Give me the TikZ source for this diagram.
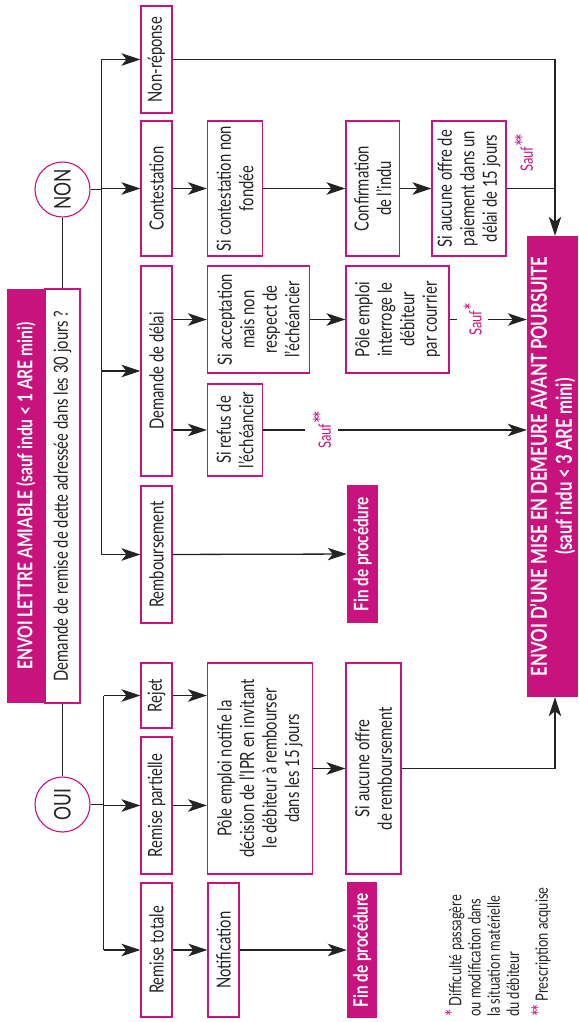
\documentclass[tikz,border=0pt]{standalone}
\usepackage{fontspec}
\setmainfont[FakeStretch=0.76]{Lato}
\usetikzlibrary{arrows.meta}
\definecolor{mag}{HTML}{C8137F}
\definecolor{ink}{HTML}{232323}
\newcommand{\bigast}[1]{{\fontsize{#1}{#1}\selectfont *}}
\begin{document}
\begin{tikzpicture}[x=1pt,y=-1pt,
  txt/.style={font=\fontsize{19.5}{22.5}\selectfont, text=ink},
  wbox/.style={draw=mag, line width=1.1pt, fill=white, rotate=90, align=center, inner sep=0pt, txt},
  mbox/.style={fill=mag, rotate=90, align=center, inner sep=0pt, text=white, font=\fontsize{20}{24}\selectfont\bfseries},
  circ/.style={circle, draw=mag, line width=1.1pt, fill=white, minimum size=55pt, inner sep=0pt, rotate=90, font=\fontsize{23}{24}\selectfont, text=ink},
  lnk/.style={draw=ink, line width=1.3pt},
  arr/.style={lnk, -{Stealth[length=19pt,width=12.5pt,inset=5pt]}},
  lab/.style={rotate=90, text=mag, font=\fontsize{17}{19}\selectfont, inner sep=0pt},
  fnote/.style={rotate=90, anchor=west, align=left, inner sep=0pt, text=ink, font=\fontsize{17}{19.3}\selectfont},
]
\useasboundingbox (0,0) rectangle (578,1022);

% left column
\node[mbox, minimum width=414pt, minimum height=38pt, font=\fontsize{20.5}{24}\selectfont\bfseries] (title) at (26,496) {ENVOI LETTRE AMIABLE (sauf indu < 1 ARE mini)};
\node[wbox, minimum width=414pt, minimum height=35pt] (qbox) at (62.5,496) {Demande de remise de dette adressée dans les 30 jours ?};
\node[circ] (nonc) at (62.5,189.5) {NON};
\node[circ] (ouic) at (62.5,804.5) {OUI};

% first column of boxes
\node[wbox, minimum width=107pt, minimum height=31pt] (nonrep) at (156.5,59.5) {Non-réponse};
\node[wbox, minimum width=135pt, minimum height=31pt] (contest) at (156.5,188.5) {Contestation};
\node[wbox, minimum width=210pt, minimum height=31pt] (dd) at (156.5,371) {Demande de délai};
\node[wbox, minimum width=137pt, minimum height=31pt] (remb) at (156.5,554.5) {Remboursement};
\node[wbox, minimum width=65pt, minimum height=31pt] (rejet) at (156.5,695.5) {Rejet};
\node[wbox, minimum width=137pt, minimum height=31pt] (rpart) at (156.5,805.5) {Remise partielle};
\node[wbox, minimum width=134pt, minimum height=31pt] (rtot) at (156.5,950) {Remise totale};

% second column
\node[wbox, minimum width=135pt, minimum height=55pt] (scnf) at (235,188.5) {Si contestation non\\fondée};
\node[wbox, minimum width=107pt, minimum height=102pt] (sacc) at (258.5,319.5) {Si acceptation\\mais non\\respect de\\l’échéancier};
\node[wbox, minimum width=92pt, minimum height=55pt] (sref) at (235,430) {Si refus de\\l’échéancier};
\node[wbox, minimum width=211pt, minimum height=105pt] (pen) at (260,768.5) {Pôle emploi notifie la\\décision de l’IPR en invitant\\le débiteur à rembourser\\dans les 15 jours};
\node[wbox, minimum width=134pt, minimum height=31pt] (notif) at (223.5,950) {Notification};

% third column
\node[wbox, minimum width=135pt, minimum height=53.5pt] (conf) at (372.75,188.5) {Confirmation\\de l’indu};
\node[wbox, minimum width=107pt, minimum height=103pt] (pint) at (397.5,319.5) {Pôle emploi\\interroge le\\débiteur\\par courrier};
\node[mbox, minimum width=138pt, minimum height=31pt] (fin1) at (362.5,554) {Fin de procédure};
\node[wbox, minimum width=211pt, minimum height=55pt] (sar) at (373.5,768.5) {Si aucune offre\\de remboursement};
\node[mbox, minimum width=136pt, minimum height=30pt] (fin2) at (362,950) {Fin de procédure};

% fourth column
\node[wbox, minimum width=135pt, minimum height=74pt] (sap) at (469,188.5) {Si aucune offre de\\paiement dans un\\délai de 15 jours};

% right bar
\node[mbox, minimum width=461pt, minimum height=51pt, font=\fontsize{22}{25}\selectfont\bfseries] (bar) at (552.5,466.5) {ENVOI D’UNE MISE EN DEMEURE AVANT POURSUITE\\(sauf indu < 3 ARE mini)};

% footnotes
\node[fnote] (fn1) at (482,1017) {\textcolor{mag}{\bigast{22}} Difficulté passagère\\ou modification dans\\la situation matérielle\\du débiteur};
\node[fnote] (fn2) at (541,1017) {\textcolor{mag}{\bigast{22}\kern-2pt\bigast{22}} Prescription acquise};

% bus coordinates
\coordinate (nb) at (101.5,0);
\coordinate (ob) at (103.5,0);
\coordinate (cx) at (555,0);

% connectors
\draw[lnk] (nonc) -- (qbox);
\draw[lnk] (qbox) -- (ouic);
\draw[lnk] (nonc) -- (nonc -| nb);
\draw[lnk] (nonrep -| nb) -- (remb -| nb);
\foreach \n in {nonrep,contest,dd,remb} \draw[arr] (\n -| nb) -- (\n);
\draw[lnk] (ouic) -- (ouic -| ob);
\draw[lnk] (rejet -| ob) -- (rtot -| ob);
\foreach \n in {rejet,rpart,rtot} \draw[arr] (\n -| ob) -- (\n);

\draw[arr] (contest) -- (scnf);
\draw[arr] (scnf) -- (conf);
\draw[arr] (conf) -- (sap);
\draw[arr] (dd.south |- sacc) -- (sacc);
\draw[arr] (dd.south |- sref) -- (sref);
\draw[arr] (sacc) -- (pint);
\draw[arr] (pint) -- node[lab, fill=white, pos=0.3, minimum height=31pt] {Sauf\bigast{24}} (pint -| bar.north);
\draw[arr] (sref) -- node[lab, fill=white, pos=0.223, minimum height=33pt] {Sauf\bigast{24}\kern-3pt\bigast{24}} (sref -| bar.north);
\draw[arr] (remb) -- (fin1);
\draw[arr] (rejet) -- (rejet -| pen.north);
\draw[arr] (rpart) -- (rpart -| pen.north);
\draw[arr] (rtot) -- (notif);
\draw[arr] (notif) -- (fin2);
\draw[arr] (pen) -- (sar);
\draw[arr] (sar) -- (sar -| cx) -- (cx |- bar.west);
\draw[arr] (nonrep) -- (nonrep -| cx) -- (cx |- bar.east);
\draw[lnk] (sap) -- (sap -| cx);
\node[lab] (s2) at (524,153) {Sauf\bigast{24}\kern-3pt\bigast{24}};
\end{tikzpicture}
\end{document}
